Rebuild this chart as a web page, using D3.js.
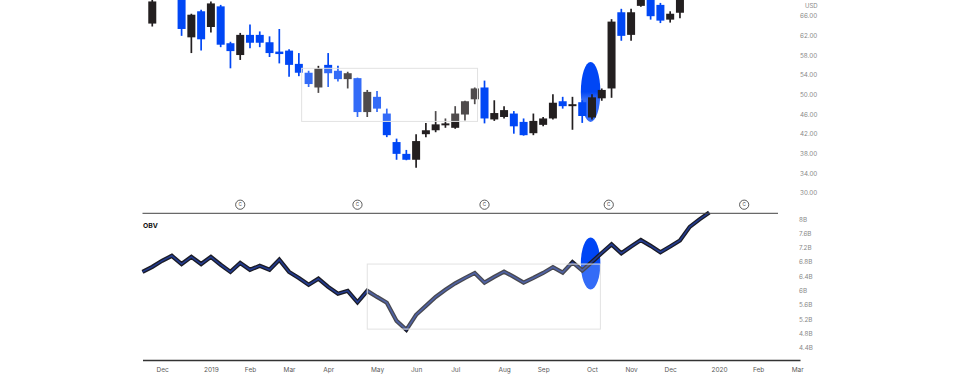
<!DOCTYPE html>
<html>
<head>
<meta charset="utf-8">
<script src="https://cdnjs.cloudflare.com/ajax/libs/d3/7.8.5/d3.min.js"></script>
<style>
    html, body { margin: 0; padding: 0; background: #fff; }
    svg { display: block; font-family: Inter, "Open Sans", sans-serif; }
</style>
</head>
<body>
<svg id="chart" width="960" height="378"></svg>
<script>
//*************************************************
// Data (weekly candles, OBV in billions)
//*************************************************
var weeks = [
    '2018-11-19', '2018-11-26', '2018-12-03', '2018-12-10', '2018-12-17', '2018-12-24', '2018-12-31',
    '2019-01-07', '2019-01-14', '2019-01-21', '2019-01-28', '2019-02-04', '2019-02-11', '2019-02-18', '2019-02-25',
    '2019-03-04', '2019-03-11', '2019-03-18', '2019-03-25', '2019-04-01', '2019-04-08', '2019-04-15', '2019-04-22',
    '2019-04-29', '2019-05-06', '2019-05-13', '2019-05-20', '2019-05-27', '2019-06-03', '2019-06-10', '2019-06-17',
    '2019-06-24', '2019-07-01', '2019-07-08', '2019-07-15', '2019-07-22', '2019-07-29', '2019-08-05', '2019-08-12',
    '2019-08-19', '2019-08-26', '2019-09-02', '2019-09-09', '2019-09-16', '2019-09-23', '2019-09-30', '2019-10-07',
    '2019-10-14', '2019-10-21', '2019-10-28', '2019-11-04', '2019-11-11', '2019-11-18', '2019-11-25', '2019-12-02',
    '2019-12-09', '2019-12-16', '2019-12-23', '2019-12-30'
];
var opens = [
    70.5, 64.4, 70.0, 72.0, 70.5, 61.6, 66.9, 63.7, 67.9, 60.4, 58.0, 62.1, 62.1, 60.6, 58.7,
    58.9, 56.2, 54.4, 51.4, 56.0, 54.8, 53.1, 53.3, 46.4, 49.5, 46.1, 40.3, 37.9, 36.7, 41.9,
    42.7, 43.7, 43.2, 45.9, 49.0, 51.4, 44.9, 45.4, 46.1, 44.4, 42.1, 43.8, 45.1, 48.6, 47.6,
    48.4, 45.3, 49.2, 51.2, 66.7, 62.1, 68.0, 70.0, 68.2, 65.2, 66.6, 70.0, 72.5, 74.3
];
var highs = [
    73.5, 70.0, 73.0, 74.5, 71.5, 66.4, 67.2, 68.9, 68.2, 60.7, 62.5, 64.2, 62.8, 61.8, 63.3,
    59.2, 58.4, 54.8, 55.8, 58.4, 55.8, 54.6, 53.4, 50.9, 50.7, 47.1, 41.0, 38.7, 41.9, 44.2,
    46.6, 45.1, 47.6, 48.7, 51.4, 52.8, 48.8, 47.6, 46.6, 45.1, 46.1, 45.4, 50.0, 49.5, 49.5,
    48.8, 50.0, 51.2, 65.3, 67.4, 67.4, 70.5, 70.5, 68.6, 66.9, 70.5, 73.0, 75.0, 76.5
];
var lows = [
    69.8, 63.8, 69.5, 70.0, 61.9, 58.4, 58.9, 62.6, 59.6, 55.3, 57.0, 59.4, 59.6, 57.6, 56.3,
    53.6, 53.7, 51.5, 50.3, 51.5, 52.6, 51.2, 45.4, 45.4, 46.4, 41.3, 36.7, 36.6, 35.1, 41.3,
    42.3, 43.2, 43.0, 44.7, 48.0, 44.1, 44.6, 45.1, 42.0, 41.6, 41.7, 43.5, 44.9, 47.1, 42.8,
    44.2, 44.9, 48.7, 49.3, 60.9, 60.9, 67.8, 65.2, 64.5, 64.6, 65.5, 69.5, 71.8, 73.5
];
var closes = [
    72.8, 68.9, 72.0, 73.5, 63.3, 66.2, 61.2, 68.5, 60.1, 58.8, 62.1, 60.5, 60.5, 58.4, 58.2,
    56.0, 54.4, 52.1, 55.3, 54.3, 53.1, 54.3, 46.4, 50.5, 47.1, 41.7, 37.9, 36.7, 40.5, 42.7,
    43.9, 44.1, 46.1, 48.6, 51.2, 45.1, 46.2, 46.8, 43.5, 41.7, 44.6, 45.1, 48.3, 47.6, 48.0,
    45.6, 49.4, 50.9, 64.8, 61.9, 66.7, 70.0, 65.9, 65.0, 66.4, 69.8, 72.5, 74.3, 76.0
];
var obvValues = [
    6.52, 6.66, 6.83, 6.97, 6.74, 6.94, 6.74, 6.94, 6.72, 6.52, 6.77, 6.58, 6.69, 6.58, 6.86,
    6.52, 6.35, 6.16, 6.33, 6.10, 5.91, 5.99, 5.67, 5.99, 5.82, 5.66, 5.15, 4.90, 5.32, 5.57,
    5.82, 6.02, 6.20, 6.35, 6.49, 6.22, 6.38, 6.53, 6.38, 6.22, 6.35, 6.49, 6.65, 6.50, 6.79,
    6.56, 6.80, 7.05, 7.29, 7.04, 7.23, 7.41, 7.25, 7.07, 7.23, 7.40, 7.78, 7.99, 8.18
];
var monthTicks = [
    '2018-12-03', '2019-01-07', '2019-02-04', '2019-03-04', '2019-04-01', '2019-05-06', '2019-06-03', '2019-07-01',
    '2019-08-05', '2019-09-02', '2019-10-07', '2019-11-04', '2019-12-02', '2020-01-06', '2020-02-03', '2020-03-02'
];
var priceTicks = [30, 34, 38, 42, 46, 50, 54, 58, 62, 66];
var obvTicks = [4.4, 4.8, 5.2, 5.6, 6, 6.4, 6.8, 7.2, 7.6, 8];
var eventDates = ['2019-01-28', '2019-04-22', '2019-07-22', '2019-10-19', '2020-01-24'];
var eventLabels = ['C', 'C', 'C', 'C', 'C'];

// annotation shapes, in data units
var priceBox = { from: '2019-03-13', to: '2019-07-17', top: 55.3, bottom: 44.5 };
var obvBox = { from: '2019-04-29', to: '2019-10-13', top: 6.74, bottom: 4.92 };
var priceMark = { from: '2019-09-29', to: '2019-10-13', top: 56.6, bottom: 44.4, fill: 'url(#markFill)' };
var obvMark = { from: '2019-09-29', to: '2019-10-13', top: 7.48, bottom: 6.03, fill: '#0046f5' };


d3.candleObv = function (){

    //*************************************************
    // Public Variables loaded with default values
    //*************************************************
    var _upColor = '#231f20';
    var _downColor = '#0047f5';
    var _left = 142.5;
    var _right = 800;

    //**********************************************************************************
    // Internal Variables
    //**********************************************************************************
    var parse = d3.utcParse('%Y-%m-%d');

    function chart(selection){
        selection.each(function (data){
            var svg = d3.select(this);

            var x = d3.scaleUtc()
                .domain([parse('2018-11-19'), parse('2020-03-04')])
                .range([_left, _right]);
            var yPrice = d3.scaleLinear().domain([30, 66]).range([192.7, 15.7]);
            var yObv = d3.scaleLinear().domain([4.4, 8]).range([347.7, 219]);

            var defs = svg.append('defs');
            var grad = defs.append('linearGradient')
                .attr('id', 'markFill')
                .attr('x1', 0).attr('y1', 0).attr('x2', 0).attr('y2', 1);
            grad.append('stop').attr('offset', '0%').attr('stop-color', '#0046f5');
            grad.append('stop').attr('offset', '50%').attr('stop-color', '#0046f5');
            grad.append('stop').attr('offset', '62%').attr('stop-color', '#336bf6');
            grad.append('stop').attr('offset', '100%').attr('stop-color', '#336bf6');

            //----------------------------------------------------------------------------------
            // Ellipse marks (under the series)
            //----------------------------------------------------------------------------------
            [[priceMark, yPrice], [obvMark, yObv]].forEach(function (m){
                var b = m[0], y = m[1];
                var x0 = x(parse(b.from)), x1 = x(parse(b.to));
                svg.append('ellipse')
                    .attr('cx', (x0 + x1) / 2)
                    .attr('cy', (y(b.top) + y(b.bottom)) / 2)
                    .attr('rx', (x1 - x0) / 2)
                    .attr('ry', (y(b.bottom) - y(b.top)) / 2)
                    .style('fill', b.fill);
            });

            //----------------------------------------------------------------------------------
            // Candles
            //----------------------------------------------------------------------------------
            var candles = svg.append('g').attr('class', 'candles')
                .selectAll('g').data(data).enter().append('g');

            candles.append('line')
                .attr('x1', function (d){ return x(d.date); })
                .attr('x2', function (d){ return x(d.date); })
                .attr('y1', function (d){ return yPrice(d.high); })
                .attr('y2', function (d){ return yPrice(d.low); })
                .style('stroke', function (d){ return d.close >= d.open ? _upColor : _downColor; })
                .style('stroke-width', 1.7);

            candles.append('rect')
                .attr('x', function (d){ return x(d.date) - 4; })
                .attr('width', 8)
                .attr('y', function (d){ return yPrice(Math.max(d.open, d.close)); })
                .attr('height', function (d){ return Math.max(1.6, Math.abs(yPrice(d.open) - yPrice(d.close))); })
                .style('fill', function (d){ return d.close >= d.open ? _upColor : _downColor; });

            //----------------------------------------------------------------------------------
            // OBV line
            //----------------------------------------------------------------------------------
            var line = d3.line()
                .x(function (d){ return x(d.date); })
                .y(function (d){ return yObv(d.obv); });

            svg.append('path').datum(data)
                .attr('d', line)
                .style('fill', 'none').style('stroke', '#1b1c26')
                .style('stroke-width', 4.2).style('stroke-linejoin', 'miter');
            svg.append('path').datum(data)
                .attr('d', line)
                .style('fill', 'none').style('stroke', '#233b8f')
                .style('stroke-width', 1.6).style('stroke-linejoin', 'miter');

            //----------------------------------------------------------------------------------
            // Highlight boxes (wash the content inside)
            //----------------------------------------------------------------------------------
            [[priceBox, yPrice], [obvBox, yObv]].forEach(function (m){
                var b = m[0], y = m[1];
                svg.append('rect')
                    .attr('x', x(parse(b.from)))
                    .attr('y', y(b.top))
                    .attr('width', x(parse(b.to)) - x(parse(b.from)))
                    .attr('height', y(b.bottom) - y(b.top))
                    .style('fill', '#fff').style('fill-opacity', 0.2)
                    .style('stroke', '#e2e2e2').style('stroke-width', 1);
            });

            //----------------------------------------------------------------------------------
            // Panel separator + event markers
            //----------------------------------------------------------------------------------
            svg.append('line')
                .attr('x1', _left).attr('x2', 778)
                .attr('y1', 213.3).attr('y2', 213.3)
                .style('stroke', '#444').style('stroke-width', 1);

            var events = svg.append('g').selectAll('g')
                .data(eventDates.map(function (d, i){ return { date: parse(d), label: eventLabels[i] }; }))
                .enter().append('g')
                .attr('transform', function (d){ return 'translate(' + x(d.date) + ',204.7)'; });
            events.append('circle').attr('r', 4.6)
                .style('fill', '#fff').style('stroke', '#333').style('stroke-width', 0.8);
            events.append('text').text(function (d){ return d.label; })
                .attr('text-anchor', 'middle').attr('dy', '0.35em')
                .style('font-size', '4.5px').style('fill', '#333');

            //----------------------------------------------------------------------------------
            // Axes
            //----------------------------------------------------------------------------------
            var xAxis = d3.axisBottom(x)
                .tickValues(monthTicks.map(parse))
                .tickSize(0).tickSizeOuter(0).tickPadding(7)
                .tickFormat(function (d){ return d.getUTCMonth() === 0 ? d3.utcFormat('%Y')(d) : d3.utcFormat('%b')(d); });
            var gx = svg.append('g').attr('transform', 'translate(0,360)').call(xAxis);
            gx.select('.domain').style('stroke', '#333').style('stroke-width', 1.6);
            gx.selectAll('text').style('font-size', '6.5px').style('fill', '#5a5a5a').style('font-family', 'Inter, sans-serif');

            var pAxis = d3.axisRight(yPrice).tickValues(priceTicks)
                .tickSize(0).tickPadding(0).tickFormat(d3.format('.2f'));
            var gp = svg.append('g').attr('transform', 'translate(800,0)').call(pAxis);
            gp.select('.domain').remove();
            gp.selectAll('text').style('font-size', '6.3px').style('fill', '#888').style('font-family', 'Inter, sans-serif');

            var oAxis = d3.axisRight(yObv).tickValues(obvTicks)
                .tickSize(0).tickPadding(0).tickFormat(function (d){ return d3.format('~g')(d) + 'B'; });
            var go = svg.append('g').attr('transform', 'translate(799,0)').call(oAxis);
            go.select('.domain').remove();
            go.selectAll('text').style('font-size', '6.3px').style('fill', '#888').style('font-family', 'Inter, sans-serif');

            svg.append('text').text('USD')
                .attr('x', 805).attr('y', 7.6)
                .style('font-size', '6px').style('fill', '#888');

            svg.append('text').text('OBV')
                .attr('x', 143).attr('y', 227.5)
                .style('font-size', '6.8px').style('font-weight', 700).style('fill', '#111');

        });//selection.each()
    } //function chart

    //-------------------------------------------------
    // Getters and setters for public variables
    //-------------------------------------------------
    chart.upColor = function (value){
        if (!arguments.length){
            return _upColor;
        }
        _upColor = value;
        return chart;
    };
    chart.downColor = function (value){
        if (!arguments.length){
            return _downColor;
        }
        _downColor = value;
        return chart;
    };

    return chart;
};

var parseDay = d3.utcParse('%Y-%m-%d');
var rows = weeks.map(function (w, i){
    return {
        date: parseDay(w),
        open: opens[i],
        high: highs[i],
        low: lows[i],
        close: closes[i],
        obv: obvValues[i]
    };
});

d3.select('#chart').datum(rows).call(d3.candleObv());
</script>
</body>
</html>
